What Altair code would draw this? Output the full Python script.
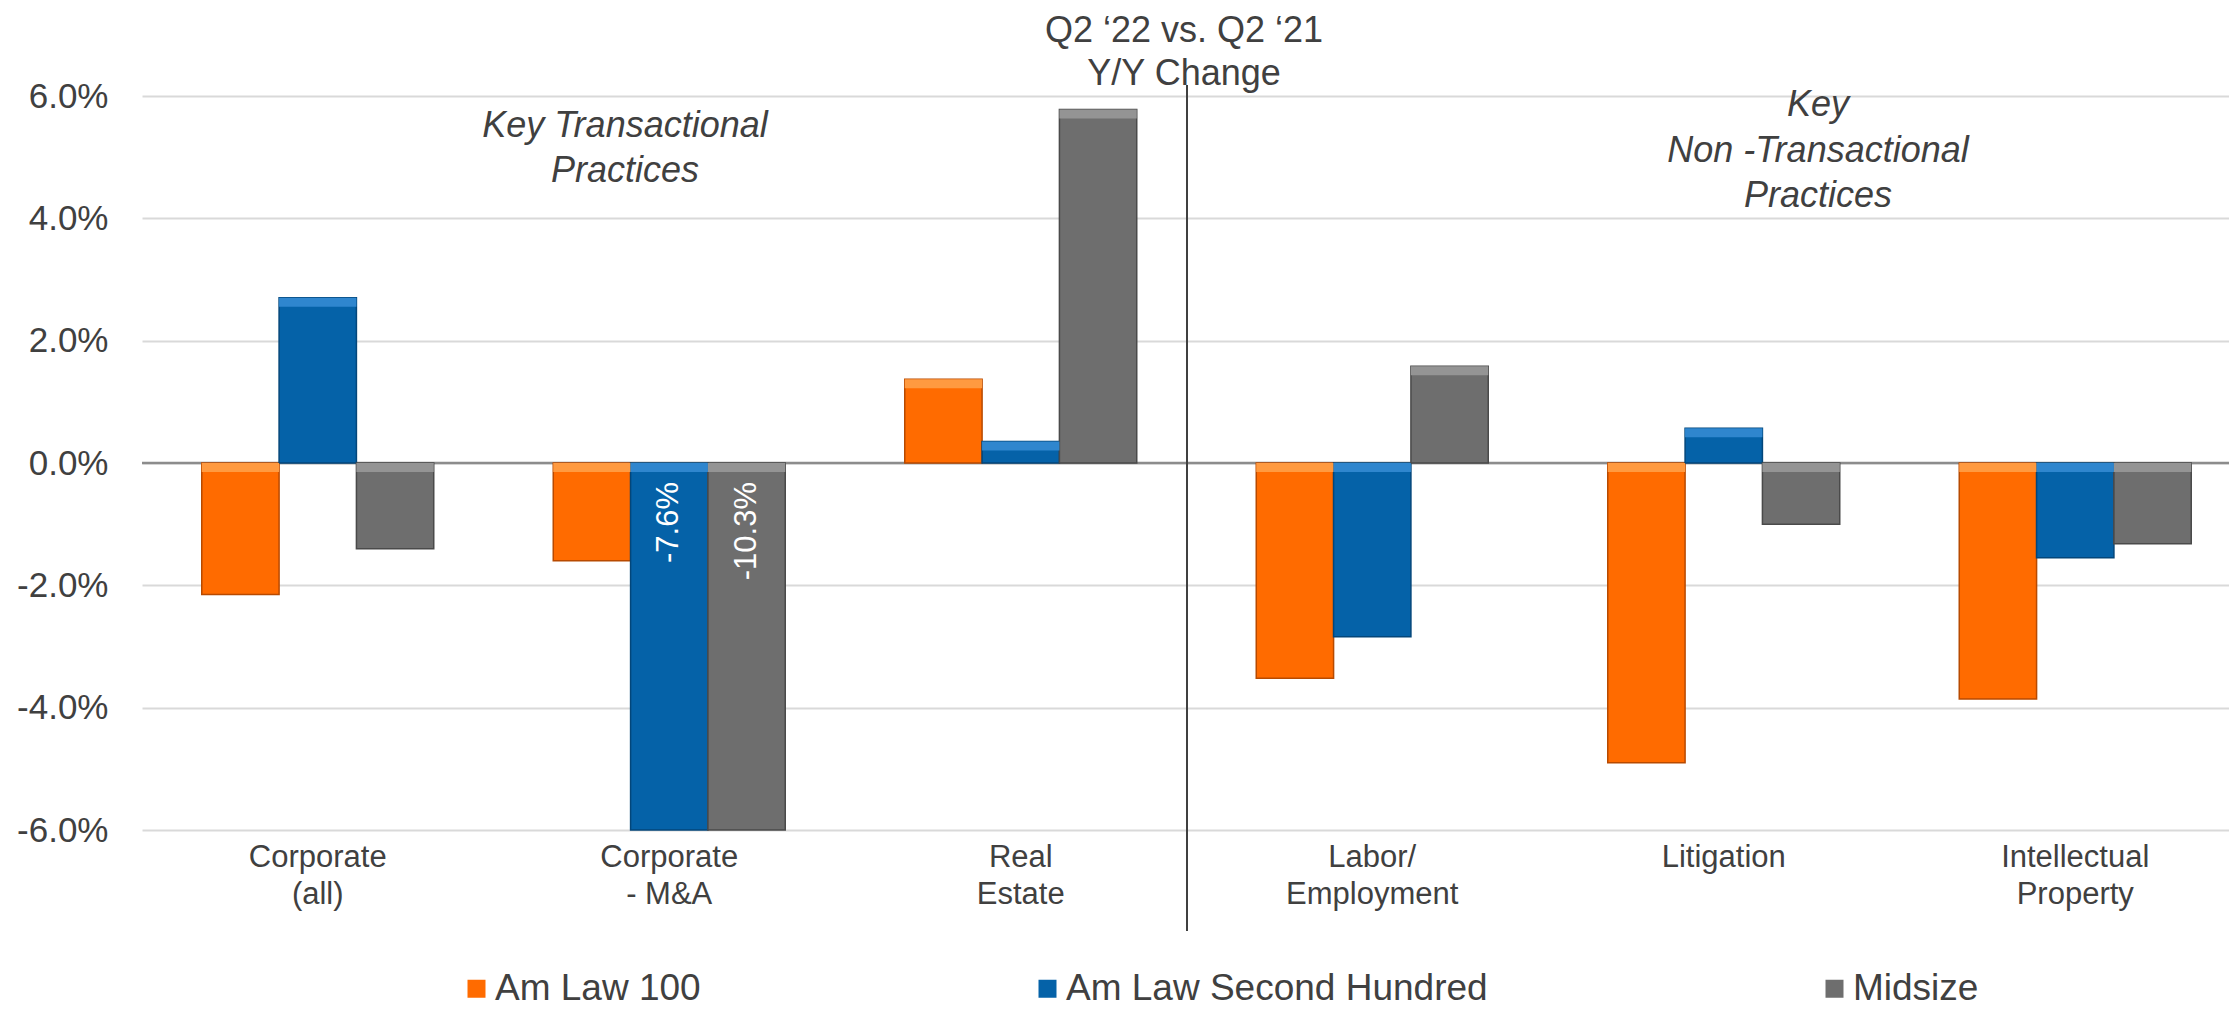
import altair as alt
import pandas as pd

# ---- data ----
categories = ["Corporate\n(all)", "Corporate\n- M&A", "Real\nEstate",
              "Labor/\nEmployment", "Litigation", "Intellectual\nProperty"]
series = ["Am Law 100", "Am Law Second Hundred", "Midsize"]
am_law_100 = [-2.15, -1.6, 1.37, -3.52, -4.9, -3.86]
am_law_second_hundred = [2.7, -7.6, 0.35, -2.84, 0.57, -1.55]
midsize = [-1.4, -10.3, 5.78, 1.58, -1.0, -1.32]
labeled_bars = [("Corporate\n- M&A", "Am Law Second Hundred"), ("Corporate\n- M&A", "Midsize")]
y_ticks = [-6, -4, -2, 0, 2, 4, 6]

title_lines = ["Q2 \u201822 vs. Q2 \u201821", "Y/Y Change"]
left_note = ["Key Transactional", "Practices"]
right_note = ["Key", "Non -Transactional", "Practices"]

colors = ["#FF6B00", "#0562A8", "#6E6E6E"]
light = ["#FF9A40", "#2F86CE", "#949494"]
dark = ["#B84A00", "#03467A", "#4A4A4A"]
FONT = "Liberation Sans"
TXT = "#404040"

rows = []
for s, vals in zip(series, [am_law_100, am_law_second_hundred, midsize]):
    for c, v in zip(categories, vals):
        rows.append({
            "category": c, "series": s, "value": v,
            "top": max(v, 0.0),
            "label": f"{v:.1f}%" if (c, s) in labeled_bars else "",
        })
df = pd.DataFrame(rows)
one = pd.DataFrame({"k": [0]})

x_enc = alt.X("category:N", sort=categories,
              scale=alt.Scale(range=[0, 2109], paddingInner=0.34, paddingOuter=0.17),
              axis=alt.Axis(title=None, labelExpr="split(datum.label, '\\n')",
                            labelFontSize=31, labelLineHeight=37, labelColor=TXT,
                            labelFont=FONT, labelPadding=12, labelAngle=0,
                            domain=False, ticks=False))
xo_enc = alt.XOffset("series:N", sort=series,
                     scale=alt.Scale(domain=series, paddingInner=0, paddingOuter=0))
y_scale = alt.Scale(domain=[-6, 6], clamp=True, nice=False)

base = alt.Chart(df)

zero = alt.Chart(one).mark_rule(color="#8C8C8C", strokeWidth=2.5).encode(y=alt.datum(0, scale=y_scale))

bars = base.mark_bar(strokeWidth=1.5).encode(
    x=x_enc, xOffset=xo_enc,
    y=alt.Y("value:Q", scale=y_scale,
            axis=alt.Axis(title=None, values=y_ticks,
                          labelExpr="(datum.value < 0 ? '-' : '') + format(abs(datum.value), '.1f') + '%'",
                          labelFontSize=35, labelColor=TXT, labelFont=FONT, labelPadding=34,
                          ticks=False, domain=False, grid=True, gridColor="#D9D9D9", gridWidth=2)),
    y2=alt.datum(0),
    color=alt.Color("series:N", sort=series, scale=alt.Scale(domain=series, range=colors),
                    legend=alt.Legend(title=None, orient="none", legendX=316, legendY=874,
                                      direction="horizontal", columnPadding=328,
                                      labelFontSize=37, labelColor=TXT, labelFont=FONT,
                                      labelLimit=2000,
                                      symbolType="square", symbolSize=324, symbolStrokeWidth=0,
                                      labelOffset=0, padding=0)),
    stroke=alt.Stroke("series:N", scale=alt.Scale(domain=series, range=dark), legend=None),
)

strip = base.mark_bar(y2Offset=9, strokeWidth=0).encode(
    x=x_enc, xOffset=xo_enc,
    y=alt.Y("top:Q", scale=y_scale),
    y2=alt.Y2("top"),
    fill=alt.Fill("series:N", scale=alt.Scale(domain=series, range=light), legend=None),
)

labels = base.transform_filter("datum.label != ''").mark_text(
    angle=270, align="right", baseline="middle", fontSize=31, font=FONT,
    color="white", yOffset=19
).encode(x=x_enc, xOffset=xo_enc, y=alt.datum(0, scale=y_scale), text="label:N")

title = alt.Chart(one).mark_text(fontSize=36, font=FONT, color=TXT, align="center",
                                 baseline="alphabetic", lineHeight=43).encode(
    x=alt.value(1042), y=alt.value(-54), text=alt.value(title_lines))

note_l = alt.Chart(one).mark_text(fontSize=36, font=FONT, color=TXT, fontStyle="italic",
                                  align="center", baseline="alphabetic", lineHeight=45).encode(
    x=alt.value(483), y=alt.value(41), text=alt.value(left_note))

note_r = alt.Chart(one).mark_text(fontSize=36, font=FONT, color=TXT, fontStyle="italic",
                                  align="center", baseline="alphabetic", lineHeight=45.5).encode(
    x=alt.value(1676), y=alt.value(20), text=alt.value(right_note))

divider = alt.Chart(one).mark_rule(color=TXT, strokeWidth=2).encode(
    x=alt.value(1045), y=alt.value(-11), y2=alt.value(835))

chart = alt.layer(zero, bars, strip, labels, title, note_l, note_r, divider).properties(
    width=2087, height=734,
    autosize=alt.AutoSizeParams(type="none"),
    padding={"left": 142, "top": 96, "right": 0, "bottom": 180},
    background="white",
).configure_view(stroke=None)

chart.save("out.html", embed_options={"renderer": "svg", "actions": False})
